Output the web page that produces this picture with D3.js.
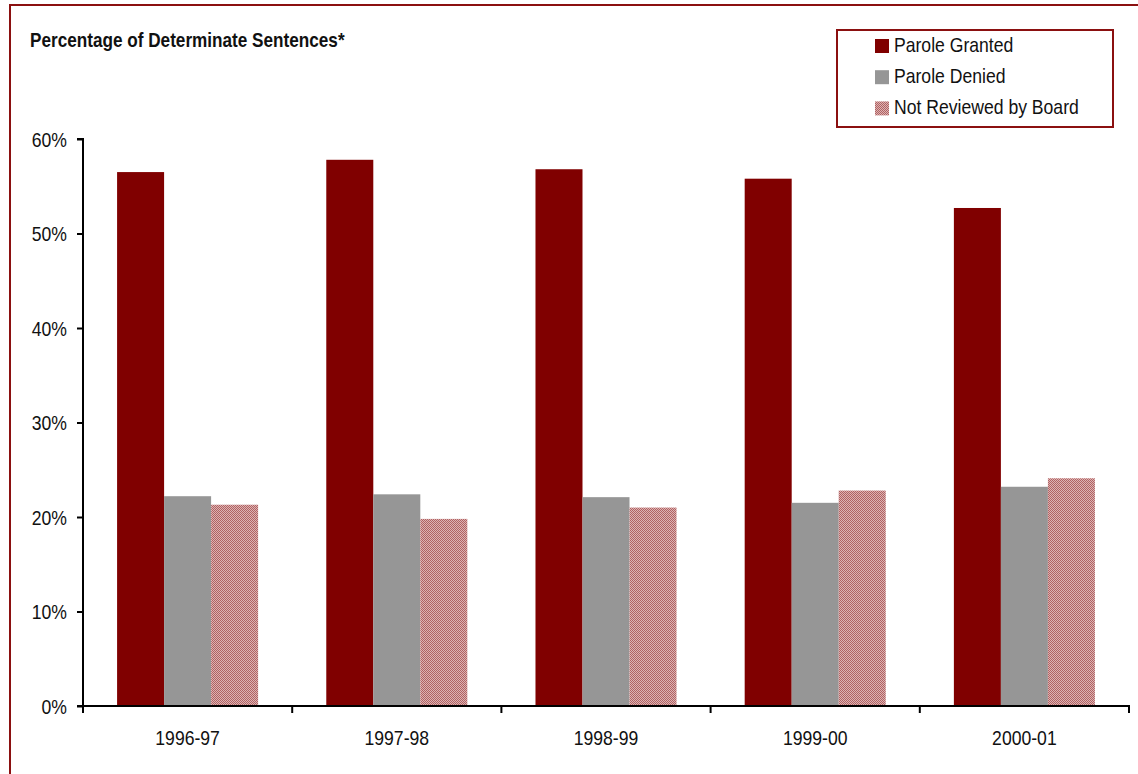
<!DOCTYPE html>
<html><head><meta charset="utf-8">
<script src="https://cdn.jsdelivr.net/npm/d3@7"></script>
<style>
html,body{margin:0;padding:0;background:#fff;}
svg{display:block;}
text{font-family:"Liberation Sans Narrow","Arial Narrow","Liberation Sans",Arial,sans-serif;fill:#111;}
</style></head>
<body><svg id="chart" width="1138" height="774"></svg>
<script>
const categories = ["1996-97","1997-98","1998-99","1999-00","2000-01"];
const seriesNames = ["Parole Granted","Parole Denied","Not Reviewed by Board"];
const paroleGranted = [56.5, 57.8, 56.8, 55.8, 52.7];
const paroleDenied = [22.2, 22.4, 22.1, 21.5, 23.2];
const notReviewed = [21.3, 19.8, 21.0, 22.8, 24.1];
const yTicks = [0,10,20,30,40,50,60];
const title = "Percentage of Determinate Sentences*";

(function(){
const SX = 0.88; // horizontal condense factor (Arial Narrow look)
const seriesValues = [paroleGranted, paroleDenied, notReviewed];
const svg = d3.select("#chart");

function narrowText(parent, px, py, str, size, anchor, weight){
  return parent.append("text")
    .attr("transform", `translate(${px},${py}) scale(${SX},1)`)
    .attr("text-anchor", anchor || "start")
    .style("font-size", size + "px")
    .style("font-weight", weight || "normal")
    .text(str);
}

const defs = svg.append("defs");
const pat = defs.append("pattern").attr("id","hatch").attr("patternUnits","userSpaceOnUse")
  .attr("width",2).attr("height",2);
pat.append("rect").attr("width",2).attr("height",2).attr("fill","#ddb3b3");
pat.append("rect").attr("x",0).attr("y",0).attr("width",1).attr("height",1).attr("fill","#b06262");
pat.append("rect").attr("x",1).attr("y",1).attr("width",1).attr("height",1).attr("fill","#b06262");

const fills = ["#800000","#969696","url(#hatch)"];

svg.append("rect").attr("x",10).attr("y",5).attr("width",1150).attr("height",800)
  .attr("fill","none").attr("stroke","#8b1010").attr("stroke-width",2);

const pl = 83, pr = 1129, pt = 139, pb = 706;
const x = d3.scaleBand().domain(categories).range([pl,pr]).paddingInner(0).paddingOuter(0);
const x1 = d3.scaleBand().domain(seriesNames).range([0, x.bandwidth()]).paddingInner(0).paddingOuter(0.725);
const y = d3.scaleLinear().domain([0,60]).range([pb, pt]);

const g = svg.append("g");
categories.forEach((c,i)=>{
  seriesNames.forEach((s,j)=>{
    const v = seriesValues[j][i];
    g.append("rect")
      .attr("x", x(c)+x1(s))
      .attr("y", y(v))
      .attr("width", x1.bandwidth())
      .attr("height", y(0)-y(v))
      .attr("fill", fills[j]);
  });
});

// y axis
const yAxis = d3.axisLeft(y).tickValues(yTicks).tickSize(6).tickPadding(10)
  .tickFormat(d=>d+"%");
const ya = svg.append("g").attr("transform",`translate(${pl},0)`).call(yAxis);
ya.attr("font-family",null).attr("font-size",null);
ya.select(".domain").attr("stroke","#000").attr("stroke-width",2).attr("d",`M-6,${pt}H0V${pb}`);
ya.selectAll(".tick line").attr("stroke","#000").attr("stroke-width",2);
ya.selectAll(".tick text")
  .attr("x", -16/SX)
  .attr("dy","0.35em")
  .attr("transform",`scale(${SX},1)`)
  .style("font-size","20px").attr("fill","#111");

// x axis
const xa = svg.append("g").attr("transform",`translate(0,${pb})`);
xa.append("line").attr("x1",pl-6).attr("x2",pr+1).attr("y1",0).attr("y2",0)
  .attr("stroke","#000").attr("stroke-width",2);
const boundaries = categories.map(c=>x(c)).concat([x(categories[categories.length-1])+x.bandwidth()]);
xa.selectAll("line.tk").data(boundaries).enter().append("line").attr("class","tk")
  .attr("x1",d=>d).attr("x2",d=>d).attr("y1",0).attr("y2",7)
  .attr("stroke","#000").attr("stroke-width",2);
categories.forEach(c=>{
  narrowText(xa, x(c)+x.bandwidth()/2, 39, c, 20, "middle");
});

// title
narrowText(svg, 30, 47, title, 19.5, "start", "bold");

// legend
const lg = svg.append("g");
lg.append("rect").attr("x",837).attr("y",30).attr("width",276).attr("height",97)
  .attr("fill","#fff").attr("stroke","#8b1010").attr("stroke-width",2);
seriesNames.forEach((s,j)=>{
  const base = 52 + j*31.2;
  lg.append("rect").attr("x",875).attr("y",base-13).attr("width",14).attr("height",14).attr("fill",fills[j]);
  narrowText(lg, 894, base, s, 20, "start");
});
})();
</script>
</body></html>
